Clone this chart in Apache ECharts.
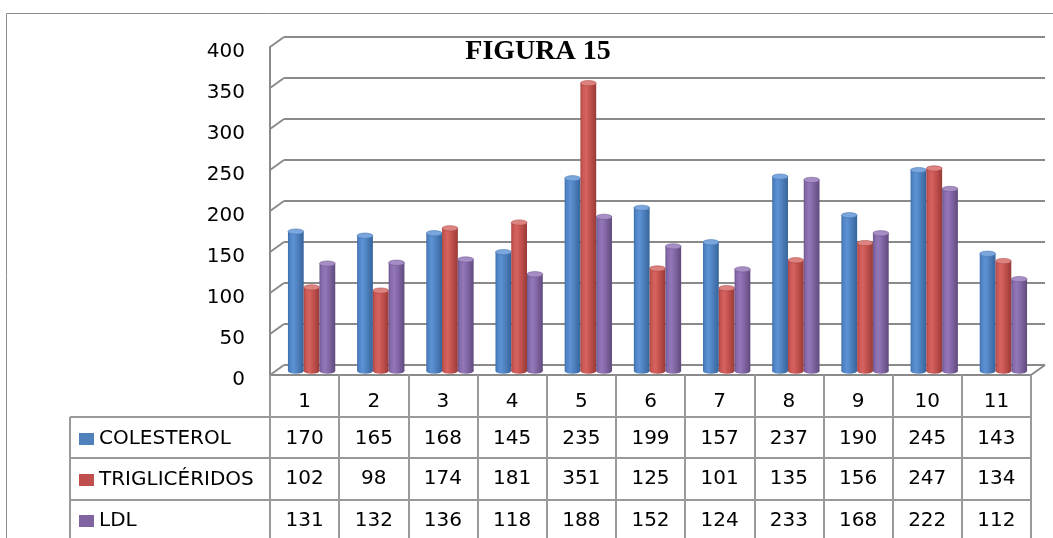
<!DOCTYPE html>
<html>
<head>
<meta charset="utf-8">
<script src="https://cdn.jsdelivr.net/npm/echarts@6/dist/echarts.min.js"></script>
<style>
  html, body { margin: 0; padding: 0; background: #ffffff; }
  #chart { width: 1053px; height: 538px; }
</style>
</head>
<body>
<div id="chart"></div>
<script>
// Patient number (table header) and measured values per patient
const categories = ['1', '2', '3', '4', '5', '6', '7', '8', '9', '10', '11'];
const colesterol = [170, 165, 168, 145, 235, 199, 157, 237, 190, 245, 143];
const trigliceridos = [102, 98, 174, 181, 351, 125, 101, 135, 156, 247, 134];
const ldl = [131, 132, 136, 118, 188, 152, 124, 233, 168, 222, 112];
const yTicks = [0, 50, 100, 150, 200, 250, 300, 350, 400];
const seriesNames = ['COLESTEROL', 'TRIGLICÉRIDOS', 'LDL'];

const FONT = 'DejaVu Sans';
const LINE = '#8a8a8a';
const TABLE_LINE = '#9a9a9a';

// Perspective: the back wall sits up and to the right of the front plane
const DEPTH_X = 14, DEPTH_Y = 10;
const PLOT_W = 761, PLOT_H = 328;
const front = { left: 270, top: 47 };
const back = { left: front.left + DEPTH_X, top: front.top - DEPTH_Y };
const mid = { left: front.left + DEPTH_X / 2, top: front.top - DEPTH_Y / 2 + 1 };
const LABEL_DROP = 4.5;

const palettes = [
  { color: '#4f81bd', body: [[0, '#3e6eaa'], [0.12, '#4f83c6'], [0.35, '#5d92d4'], [0.65, '#4c7ebb'], [1, '#36639b']], top: '#7aa6dd', rim: '#3f70ad' },
  { color: '#c0504d', body: [[0, '#a8423f'], [0.12, '#c85653'], [0.35, '#d6635f'], [0.65, '#bf4f4c'], [1, '#973a37']], top: '#dc8380', rim: '#a8423f' },
  { color: '#8064a2', body: [[0, '#6a5389'], [0.12, '#8569aa'], [0.35, '#9377b8'], [0.65, '#7f63a1'], [1, '#5f4a7c']], top: '#a68ec5', rim: '#6c558c' }
];

function stops(list) {
  return list.map(function (s) { return { offset: s[0], color: s[1] }; });
}

// Draws one cylinder per data item, placed in its slot within the category
function cylinderRenderer(slot, pal) {
  return function (params, api) {
    const i = api.value(0), v = api.value(1);
    const topPt = api.coord([i, v]);
    const basePt = api.coord([i, 0]);
    const catW = api.size([1, 0])[0];
    const bw = catW * 0.228;
    const cx = topPt[0] + (slot - 1) * bw;
    const r = bw / 2;
    const ry = bw * 0.17;
    const bodyFill = { type: 'linear', x: 0, y: 0, x2: 1, y2: 0, colorStops: stops(pal.body) };
    return {
      type: 'group',
      children: [
        { type: 'circle', x: cx, y: basePt[1], scaleY: ry / r, shape: { cx: 0, cy: 0, r: r },
          style: { fill: bodyFill } },
        { type: 'rect', shape: { x: cx - r, y: topPt[1], width: bw, height: basePt[1] - topPt[1] },
          style: { fill: bodyFill } },
        { type: 'circle', x: cx, y: topPt[1], scaleY: ry / r, shape: { cx: 0, cy: 0, r: r },
          style: { fill: pal.top, stroke: pal.rim, lineWidth: 0.8 } }
      ]
    };
  };
}

const valueSets = [colesterol, trigliceridos, ldl];

const cylinderSeries = valueSets.map(function (vals, k) {
  return {
    name: seriesNames[k],
    type: 'custom',
    xAxisIndex: 2,
    yAxisIndex: 2,
    clip: false,
    silent: true,
    z: 5,
    itemStyle: { color: palettes[k].color },
    encode: { x: 0, y: 1 },
    data: vals.map(function (v, i) { return [i, v]; }),
    renderItem: cylinderRenderer(k, palettes[k])
  };
});

// Side wall and floor edges joining the front plane to the back wall
const wallSeries = {
  type: 'custom',
  xAxisIndex: 0,
  yAxisIndex: 0,
  clip: false,
  silent: true,
  z: 2,
  encode: { x: 0, y: 1 },
  data: yTicks.map(function (t) { return [0, t]; }),
  renderItem: function (params, api) {
    const v = api.value(1);
    const p = api.coord([0, v]);
    const cs = params.coordSys;
    const children = [{
      type: 'line',
      shape: { x1: cs.x, y1: p[1], x2: cs.x - DEPTH_X, y2: p[1] + DEPTH_Y },
      style: { stroke: LINE, lineWidth: 2 }
    }];
    if (v === 0) {
      children.push({
        type: 'line',
        shape: { x1: cs.x + cs.width, y1: p[1], x2: cs.x + cs.width - DEPTH_X, y2: p[1] + DEPTH_Y },
        style: { stroke: LINE, lineWidth: 2 }
      });
    }
    return { type: 'group', children: children };
  }
};

const labelFont = { fontFamily: FONT, fontSize: 20, color: '#000000' };

// Table rows below the category axis, one per series
const rowOffsets = [37, 77, 119];
const tableAxes = valueSets.map(function (vals, k) {
  return {
    type: 'category',
    gridIndex: 1,
    position: 'bottom',
    offset: rowOffsets[k],
    data: vals.map(String),
    axisLine: { show: false },
    axisTick: { show: false },
    splitLine: { show: false },
    axisLabel: Object.assign({ margin: 17, interval: 0 }, labelFont)
  };
});

const chart = echarts.init(document.getElementById('chart'), null, { renderer: 'canvas' });

chart.setOption({
  backgroundColor: '#ffffff',
  animation: false,
  grid: [
    { left: back.left, top: back.top, width: PLOT_W, height: PLOT_H, outerBoundsMode: 'none' },
    { left: front.left, top: front.top, width: PLOT_W, height: PLOT_H, outerBoundsMode: 'none' },
    { left: mid.left, top: mid.top, width: PLOT_W, height: PLOT_H, outerBoundsMode: 'none' },
    { left: front.left, top: front.top + LABEL_DROP, width: PLOT_W, height: PLOT_H, outerBoundsMode: 'none' }
  ],
  xAxis: [
    { type: 'category', gridIndex: 0, data: categories, show: false },
    {
      type: 'category',
      gridIndex: 1,
      data: categories,
      axisLine: { show: true, lineStyle: { color: LINE, width: 2 } },
      axisTick: { show: true, interval: 0, length: 175, lineStyle: { color: TABLE_LINE, width: 2 } },
      splitLine: { show: false },
      axisLabel: Object.assign({ margin: 17, interval: 0 }, labelFont)
    },
    { type: 'category', gridIndex: 2, data: categories, show: false },
    { type: 'category', gridIndex: 3, data: categories, show: false }
  ].concat(tableAxes),
  yAxis: [
    {
      type: 'value', gridIndex: 0, min: 0, max: 400, interval: 50,
      axisLine: { show: false }, axisTick: { show: false }, axisLabel: { show: false },
      splitLine: { show: true, lineStyle: { color: LINE, width: 2 } }
    },
    {
      type: 'value', gridIndex: 1, min: 0, max: 400, interval: 50,
      axisLine: { show: true, lineStyle: { color: LINE, width: 2 } },
      axisTick: { show: false },
      splitLine: { show: false },
      axisLabel: { show: false }
    },
    { type: 'value', gridIndex: 2, min: 0, max: 400, interval: 50, show: false },
    {
      type: 'value', gridIndex: 3, min: 0, max: 400, interval: 50,
      axisLine: { show: false }, axisTick: { show: false }, splitLine: { show: false },
      axisLabel: Object.assign({ margin: 25 }, labelFont)
    }
  ],
  legend: {
    data: seriesNames,
    orient: 'vertical',
    left: 79,
    top: 429,
    padding: 0,
    itemWidth: 15,
    itemHeight: 12,
    itemGap: 21,
    icon: 'rect',
    selectedMode: false,
    itemStyle: { borderWidth: 0 },
    textStyle: { fontFamily: FONT, fontSize: 20, color: '#000000', lineHeight: 20 }
  },
  graphic: [
    // Outer chart frame
    { type: 'rect', silent: true, z: 0,
      shape: { x: 6.5, y: 13.5, width: 1100, height: 600 },
      style: { fill: 'none', stroke: '#8c8c8c', lineWidth: 1 } },
    // Table row rules and the left edge of the label column
    { type: 'line', silent: true, shape: { x1: 70, y1: 417, x2: 1031, y2: 417 }, style: { stroke: TABLE_LINE, lineWidth: 2 } },
    { type: 'line', silent: true, shape: { x1: 70, y1: 458, x2: 1031, y2: 458 }, style: { stroke: TABLE_LINE, lineWidth: 2 } },
    { type: 'line', silent: true, shape: { x1: 70, y1: 500, x2: 1031, y2: 500 }, style: { stroke: TABLE_LINE, lineWidth: 2 } },
    { type: 'line', silent: true, shape: { x1: 70, y1: 417, x2: 70, y2: 545 }, style: { stroke: TABLE_LINE, lineWidth: 2 } },
    // Title
    { type: 'text', silent: true, x: 538, y: 52,
      style: { text: 'FIGURA 15', font: 'bold 28px "Liberation Serif"', fill: '#000000',
               align: 'center', verticalAlign: 'middle' } }
  ],
  series: [wallSeries].concat(cylinderSeries)
});
</script>
</body>
</html>
